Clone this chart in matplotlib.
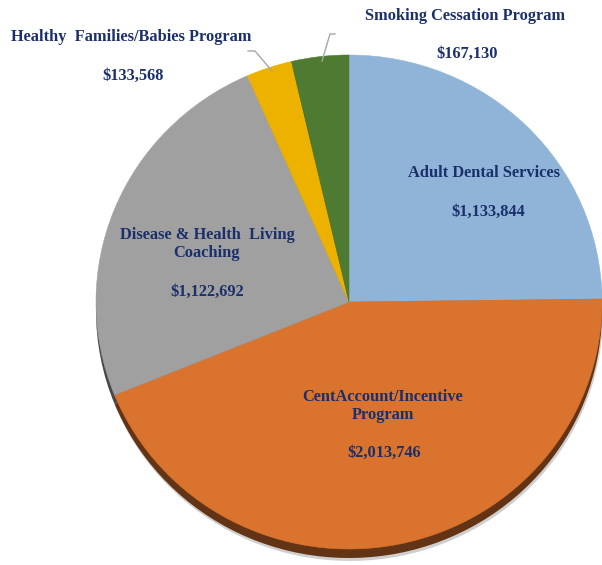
import numpy as np
import matplotlib
matplotlib.use("Agg")
import matplotlib.pyplot as plt
import matplotlib.colors as mcolors

# chart data
labels = ["Adult Dental Services", "CentAccount/Incentive\nProgram",
          "Disease & Health  Living\nCoaching", "Healthy  Families/Babies Program",
          "Smoking Cessation Program"]
values = [1133844, 2013746, 1122692, 133568, 167130]
colors = ["#8FB4D8", "#D9732E", "#A0A0A0", "#EDB200", "#4E7A31"]

# label placement in pixels (name centre, value centre)
name_pos = [(484, 173), (383, 406), (207, 244), (131, 37), (465, 16)]
value_pos = [(488, 212), (384, 453), (207, 292), (133, 76), (467, 54)]
leaders = [None, None, None,
           [(248, 51), (255, 51), (272, 71)],
           [(335, 34), (330, 34), (322, 61)]]

W, H = 602, 565
fig = plt.figure(figsize=(W / 100, H / 100), dpi=100)

# pie axes: ellipse rx=253, ry=247, centre (349, 302)
cx, cy, rx, ry = 349, 302, 253, 247
ax = fig.add_axes([(cx - rx) / W, (H - cy - ry) / H, 2 * rx / W, 2 * ry / H])

# soft shadow and dark side for the 3D look
depth = 9 / ry
ax.pie(values, colors=["#cfcfcf"] * 5, startangle=90, counterclock=False,
       center=(0.004, -depth - 0.012), radius=1.0, frame=True,
       wedgeprops=dict(linewidth=0))
dark = [tuple(c * 0.45 for c in mcolors.to_rgb(col)) for col in colors]
ax.pie(values, colors=dark, startangle=90, counterclock=False,
       center=(0, -depth), radius=1.0, frame=True,
       wedgeprops=dict(linewidth=0))
wedges, _ = ax.pie(values, colors=colors, startangle=90, counterclock=False,
                   center=(0, 0), radius=1.0, frame=True,
                   wedgeprops=dict(linewidth=0.4))
for w, col in zip(wedges, colors):
    w.set_edgecolor(col)
ax.set_xlim(-1, 1)
ax.set_ylim(-1, 1)
ax.set_aspect("auto")
ax.axis("off")

# overlay in pixel coordinates for the labels
ov = fig.add_axes([0, 0, 1, 1])
ov.set_xlim(0, W)
ov.set_ylim(H, 0)
ov.axis("off")
ov.patch.set_alpha(0)

txt = dict(fontfamily="Liberation Serif", fontweight="bold", fontsize=11.8,
           color="#1B2F6B", ha="center", va="center", linespacing=1.15)
for name, v, npos, vpos, ld in zip(labels, values, name_pos, value_pos, leaders):
    ov.text(npos[0], npos[1], name, **txt)
    ov.text(vpos[0], vpos[1], f"${v:,}", **txt)
    if ld is not None:
        xs, ys = zip(*ld)
        ov.plot(xs, ys, color="#A6A6A6", lw=1)

fig.savefig("out.png", dpi=100)
